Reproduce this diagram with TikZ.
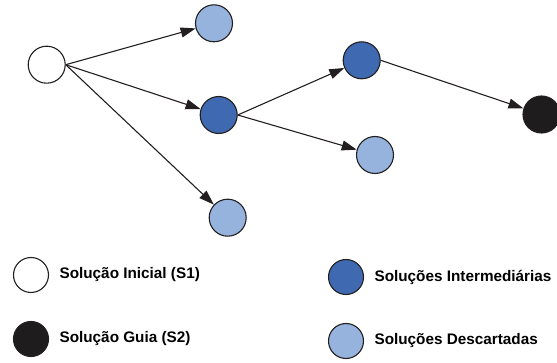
\documentclass[tikz,border=0pt]{standalone}
\usepackage{fontspec}
\setmainfont{Liberation Sans}
\usetikzlibrary{positioning, arrows.meta}

\definecolor{interblue}{RGB}{63,105,176}
\definecolor{discblue}{RGB}{149,179,221}
\definecolor{guiablack}{RGB}{30,28,29}
\definecolor{linegray}{RGB}{35,31,32}

\begin{document}
\begin{tikzpicture}[
    % GLOBAL CFG
    x=1pt, y=-1pt,
    font=\fontsize{15.3}{18}\selectfont\bfseries,
    >={Triangle[length=15pt, width=10pt]},
    % Styles
    sol/.style={
        circle,
        draw=linegray,
        line width=1.1pt,
        minimum size=37pt,
        inner sep=0pt,
    },
    inicial/.style={sol, fill=white},
    inter/.style={sol, fill=interblue},
    descart/.style={sol, fill=discblue},
    guia/.style={sol, fill=guiablack},
    leg/.style={minimum size=35pt},
    ArrowS/.style={
        ->,
        line width=1.1pt,
        draw=linegray,
    },
]
\useasboundingbox (0,0) rectangle (557,363);

% Start drawing the search tree...
    % Draw the solutions
    \node [inicial] (s1) at (46.7,64.7) {};
    \node [descart] (d1) at (214,23.3) {};
    \node [inter] (i1) at (218.7,115) {};
    \node [descart] (d2) at (227.7,217.7) {};
    \node [inter] (i2) at (361.7,60.3) {};
    \node [descart] (d3) at (375,155) {};
    \node [guia] (s2) at (541.5,114.5) {};

    % Draw the legend named lg#
    \node [inicial, leg] (lgS1) at (31,275) {};
    \node [guia, leg] (lgS2) at (31,339) {};
    \node [inter, leg] (lgI) at (346,277) {};
    \node [descart, leg] (lgD) at (346,341) {};

    \node [right=7pt of lgS1] (tS1) {Solução Inicial (S1)};
    \node [right=7pt of lgS2] (tS2) {Solução Guia (S2)};
    \node [right=7pt of lgI] (tI) {Soluções Intermediárias};
    \node [right=7pt of lgD] (tD) {Soluções Descartadas};

% Start connecting all.
    \draw [ArrowS] (s1.east) -- (d1);
    \draw [ArrowS] (s1.east) -- (i1);
    \draw [ArrowS] (s1.east) -- (d2);
    \draw [ArrowS] (i1.east) -- (i2);
    \draw [ArrowS] (i1.east) -- (d3);
    \draw [ArrowS] (i2.east) -- (s2);

\end{tikzpicture}
\end{document}
